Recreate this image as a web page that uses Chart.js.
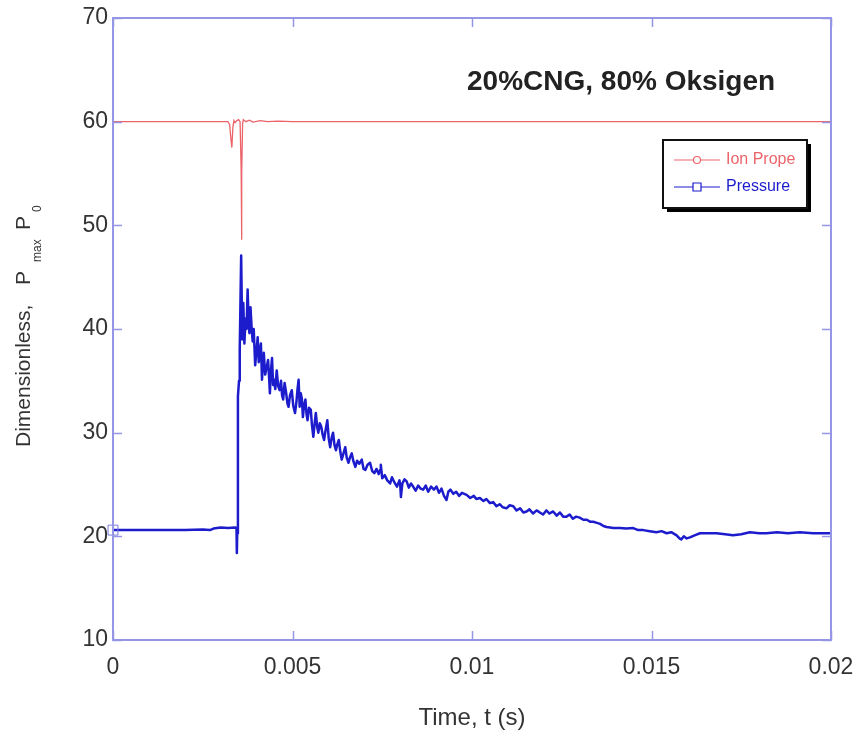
<!DOCTYPE html>
<html>
<head>
<meta charset="utf-8">
<script src="https://cdn.jsdelivr.net/npm/chart.js@4.4.1/dist/chart.umd.min.js"></script>
<style>
  html, body { margin: 0; padding: 0; background: #fff; }
  canvas { display: block; }
</style>
</head>
<body>
<canvas id="chart" width="858" height="749"></canvas>
<script>
// time (s) and dimensionless pressure
const pressureTime = [
  0, 0.0005, 0.0010, 0.0015, 0.0020, 0.0025, 0.0027, 0.0028, 0.0030, 0.0032, 0.0034, 0.00344,
  0.00345, 0.00346, 0.00348, 0.00351, 0.00353, 0.00357, 0.00360, 0.00363, 0.00366, 0.00369,
  0.00372, 0.00375, 0.00378, 0.00380, 0.00383, 0.00386, 0.00389, 0.00392, 0.00396, 0.00400,
  0.00403, 0.00406, 0.00408, 0.00412, 0.00415, 0.00418, 0.00420, 0.00424, 0.00428, 0.00432,
  0.00435, 0.00437, 0.00440, 0.00443, 0.00446, 0.00449, 0.00452, 0.00456, 0.00460, 0.00464,
  0.00468, 0.00471, 0.00474, 0.00478, 0.00482, 0.00486, 0.00489, 0.00493, 0.00498, 0.00502,
  0.00507, 0.00511, 0.00514, 0.00517, 0.00520, 0.00523, 0.00526, 0.00529, 0.00532, 0.00536,
  0.00539, 0.00542, 0.00546, 0.00551, 0.00554, 0.00558, 0.00562, 0.00565, 0.00569, 0.00572,
  0.00576, 0.00580, 0.00584, 0.00588, 0.00592, 0.00597, 0.00601, 0.00605, 0.00609, 0.00613,
  0.00617, 0.00621, 0.00625, 0.00629, 0.00633, 0.00637, 0.00642, 0.00647, 0.00651, 0.00656,
  0.00660, 0.00665, 0.00670, 0.00675, 0.00680, 0.00686, 0.00693, 0.00698, 0.00703, 0.00709,
  0.00716, 0.00722, 0.00728, 0.00734, 0.00740, 0.00744, 0.00746, 0.00750, 0.00757, 0.00764,
  0.00772, 0.00777, 0.00784, 0.00791, 0.00798, 0.00800, 0.00802, 0.00806, 0.00812, 0.00818,
  0.00824, 0.00830, 0.00836, 0.00843, 0.00850, 0.00857, 0.00864, 0.00871, 0.00878, 0.00886,
  0.00894, 0.00901, 0.00908, 0.00915, 0.00922, 0.00929, 0.00934, 0.00940, 0.00948, 0.00956,
  0.00964, 0.00972, 0.00985, 0.00995, 0.01005, 0.01012, 0.01022, 0.01032, 0.01040, 0.01050,
  0.01059, 0.01068, 0.01077, 0.01086, 0.01096, 0.01105, 0.01115, 0.01124, 0.01134, 0.01143,
  0.01152, 0.01160, 0.01170, 0.01180, 0.01189, 0.01198, 0.01207, 0.01216, 0.01226, 0.01236,
  0.01245, 0.01254, 0.01263, 0.01272, 0.01281, 0.01290, 0.01300, 0.01310, 0.01320, 0.01330,
  0.01338, 0.01348, 0.01357, 0.01366, 0.01375, 0.01394, 0.01412, 0.01430, 0.01449, 0.01463,
  0.01477, 0.01495, 0.01514, 0.01528, 0.01542, 0.01555, 0.01570, 0.01578, 0.01583, 0.01590,
  0.01598, 0.01607, 0.01620, 0.01635, 0.01660, 0.01681, 0.01705, 0.01727, 0.01750, 0.01774,
  0.01800, 0.01820, 0.01850, 0.01880, 0.01913, 0.01950, 0.01987, 0.02000
];
const pressureValue = [
  20.6, 20.6, 20.6, 20.6, 20.6, 20.65, 20.6, 20.75, 20.85, 20.8, 20.85, 20.8,
  18.4, 20.3, 33.5, 35.0, 38.0, 47.1, 39.0, 42.5, 38.6, 41.0,
  40.0, 43.8, 40.5, 39.6, 42.1, 40.2, 38.8, 40.0, 36.5, 38.0,
  39.2, 36.8, 37.6, 38.6, 35.1, 36.8, 37.7, 35.6, 36.3, 37.0,
  35.2, 33.8, 36.0, 37.2, 34.6, 35.1, 34.2, 36.0, 34.5, 34.1,
  35.0, 33.6, 33.2, 34.8, 33.9, 32.8, 32.5, 33.6, 34.1, 32.6,
  31.9, 33.0, 34.2, 35.1, 32.5, 33.8, 33.3, 31.5, 32.6, 33.2,
  31.8, 31.2, 32.4, 32.2, 30.8, 29.6, 31.0, 31.9, 30.5, 30.0,
  30.9, 30.6, 29.8, 29.3, 30.2, 31.2, 29.4, 28.6, 29.5, 30.0,
  28.8, 28.3, 28.9, 29.3, 28.2, 27.4, 28.0, 28.6, 27.6, 27.1,
  27.6, 28.0, 27.2, 26.7, 27.3, 27.0, 27.4, 26.5, 26.4, 26.9,
  27.1, 26.3, 26.1, 26.5, 26.0, 26.4, 26.9, 25.6, 25.9, 25.4,
  25.1, 25.7, 25.2, 24.8, 25.4, 25.0, 23.8, 25.1, 25.5, 25.3,
  24.7, 25.1, 24.8, 24.4, 24.9, 24.6, 24.5, 24.9, 24.3, 24.8,
  24.5, 24.8, 24.2, 24.6, 23.9, 23.5, 24.3, 24.5, 24.1, 24.3,
  23.9, 24.2, 24.0, 23.7, 23.9, 23.6, 23.7, 23.4, 23.6, 23.2,
  23.3, 22.9, 23.1, 22.8, 22.7, 23.0, 22.9, 22.5, 22.7, 22.3,
  22.4, 22.6, 22.2, 22.5, 22.3, 22.1, 22.5, 22.2, 22.4, 22.0,
  22.3, 21.9, 21.9, 22.1, 21.7, 21.9, 21.8, 21.6, 21.6, 21.4,
  21.4, 21.3, 21.2, 21.0, 20.9, 20.8, 20.8, 20.75, 20.8, 20.6,
  20.6, 20.5, 20.4, 20.5, 20.3, 20.4, 20.1, 19.8, 19.7, 20.0,
  19.8, 19.9, 20.1, 20.3, 20.3, 20.3, 20.2, 20.1, 20.2, 20.4,
  20.3, 20.3, 20.4, 20.3, 20.4, 20.3, 20.3, 20.3
];

const ionTime = [
  0, 0.0032, 0.00325, 0.00328, 0.00331, 0.00334, 0.00337, 0.0034, 0.00345, 0.0035, 0.00354,
  0.00357, 0.00358, 0.00359, 0.00361, 0.00363, 0.0037, 0.0038, 0.0039, 0.0041, 0.0043,
  0.0046, 0.0050, 0.0200
];
const ionValue = [
  60, 60, 59.7, 58.5, 57.5, 59.5, 60.1, 59.9, 60.1, 60.2, 60.0,
  55.3, 48.6, 55.0, 59.8, 60.2, 60.0, 60.15, 59.95, 60.1, 60.0,
  60.05, 60, 60
];

const xTickLabels = ['0', '0.005', '0.01', '0.015', '0.02'];
const seriesNames = ['Ion Prope', 'Pressure'];
const chartTitle = '20%CNG, 80% Oksigen';
const xTitle = 'Time, t (s)';

const FRAME = 'rgb(150,150,230)';
const RED = 'rgb(236,100,105)';
const BLUE = 'rgb(28,28,205)';
const FONT = '"Liberation Sans", Arial, sans-serif';

const toPoints = (xs, ys) => xs.map((x, i) => ({ x, y: ys[i] }));

// frame, inward ticks, titles and the boxed legend
const decor = {
  id: 'decor',
  afterDatasetsDraw(chart) {
    const { ctx, chartArea: a, scales: { x, y } } = chart;
    ctx.save();
    ctx.strokeStyle = FRAME;
    ctx.lineWidth = 2;
    ctx.strokeRect(a.left, a.top, a.right - a.left, a.bottom - a.top);
    ctx.lineWidth = 1.5;
    ctx.beginPath();
    y.ticks.forEach(t => {
      const py = Math.round(y.getPixelForValue(t.value)) + 0.5;
      ctx.moveTo(a.left, py); ctx.lineTo(a.left + 9, py);
      ctx.moveTo(a.right, py); ctx.lineTo(a.right - 9, py);
    });
    x.ticks.forEach(t => {
      const px = Math.round(x.getPixelForValue(t.value)) + 0.5;
      ctx.moveTo(px, a.bottom); ctx.lineTo(px, a.bottom - 9);
      ctx.moveTo(px, a.top); ctx.lineTo(px, a.top + 9);
    });
    ctx.stroke();

    // title inside the plot
    ctx.fillStyle = '#222';
    ctx.font = 'bold 28px ' + FONT;
    ctx.textAlign = 'left';
    ctx.textBaseline = 'middle';
    ctx.fillText(chartTitle, 467, 82);

    // x axis title
    ctx.font = '24px ' + FONT;
    ctx.fillStyle = '#333';
    ctx.textAlign = 'center';
    ctx.fillText(xTitle, 472, 718);

    // y axis title with subscripts
    ctx.save();
    ctx.translate(24, 447);
    ctx.rotate(-Math.PI / 2);
    ctx.textAlign = 'left';
    ctx.font = '21px ' + FONT;
    ctx.fillText('Dimensionless,', 0, 0);
    ctx.fillText('P', 162, 0);
    ctx.fillText('P', 217, 0);
    ctx.font = '12px ' + FONT;
    ctx.fillText('max', 185, 14);
    ctx.fillText('0', 235, 14);
    ctx.restore();

    // legend box with shadow
    const bx = 663, by = 140, bw = 144, bh = 68;
    ctx.fillStyle = '#000';
    ctx.fillRect(bx + 4, by + 4, bw, bh);
    ctx.fillStyle = '#fff';
    ctx.fillRect(bx, by, bw, bh);
    ctx.strokeStyle = '#111';
    ctx.lineWidth = 2;
    ctx.strokeRect(bx, by, bw, bh);

    const rows = [
      { name: seriesNames[0], color: RED, ly: 160, marker: 'circle' },
      { name: seriesNames[1], color: BLUE, ly: 187, marker: 'rect' }
    ];
    rows.forEach(r => {
      ctx.strokeStyle = r.color;
      ctx.lineWidth = 1.2;
      ctx.beginPath();
      ctx.moveTo(674, r.ly); ctx.lineTo(720, r.ly);
      ctx.stroke();
      ctx.fillStyle = '#fff';
      ctx.beginPath();
      if (r.marker === 'circle') ctx.arc(697, r.ly, 3.5, 0, Math.PI * 2);
      else ctx.rect(693, r.ly - 4, 8, 8);
      ctx.fill();
      ctx.stroke();
      ctx.fillStyle = r.color;
      ctx.font = '16px ' + FONT;
      ctx.textAlign = 'left';
      ctx.textBaseline = 'middle';
      ctx.fillText(r.name, 726, r.ly);
    });
    ctx.restore();
  }
};

new Chart(document.getElementById('chart'), {
  type: 'line',
  data: {
    datasets: [
      {
        label: seriesNames[0],
        data: toPoints(ionTime, ionValue),
        borderColor: RED,
        borderWidth: 1.3,
        pointRadius: 0,
        tension: 0
      },
      {
        label: seriesNames[1],
        data: toPoints(pressureTime, pressureValue),
        borderColor: BLUE,
        borderWidth: 2.5,
        borderJoinStyle: 'round',
        pointRadius: ctx => (ctx.dataIndex === 0 ? 7 : 0),
        pointStyle: 'rect',
        pointBorderColor: 'rgb(120,120,225)',
        pointBorderWidth: 1,
        pointBackgroundColor: 'rgba(255,255,255,0)',
        clip: false,
        tension: 0
      }
    ]
  },
  options: {
    responsive: false,
    animation: false,
    layout: { padding: { top: 18, right: 27, left: 0, bottom: 0 } },
    plugins: { legend: { display: false }, tooltip: { enabled: false } },
    scales: {
      x: {
        type: 'linear',
        min: 0,
        max: 0.02,
        grid: { display: false, drawTicks: false },
        border: { display: false },
        afterFit: s => { s.height = 109; s.paddingLeft = 0; s.paddingRight = 0; },
        ticks: {
          stepSize: 0.005,
          padding: 14,
          color: '#333',
          font: { family: FONT, size: 23 },
          maxRotation: 0,
          callback: (v, i) => xTickLabels[i]
        }
      },
      y: {
        min: 10,
        max: 70,
        grid: { display: false, drawTicks: false },
        border: { display: false },
        afterFit: s => { s.width = 113; s.paddingTop = 0; s.paddingBottom = 0; },
        ticks: {
          stepSize: 10,
          padding: 5,
          color: '#333',
          font: { family: FONT, size: 23 }
        }
      }
    }
  },
  plugins: [decor]
});
</script>
</body>
</html>
